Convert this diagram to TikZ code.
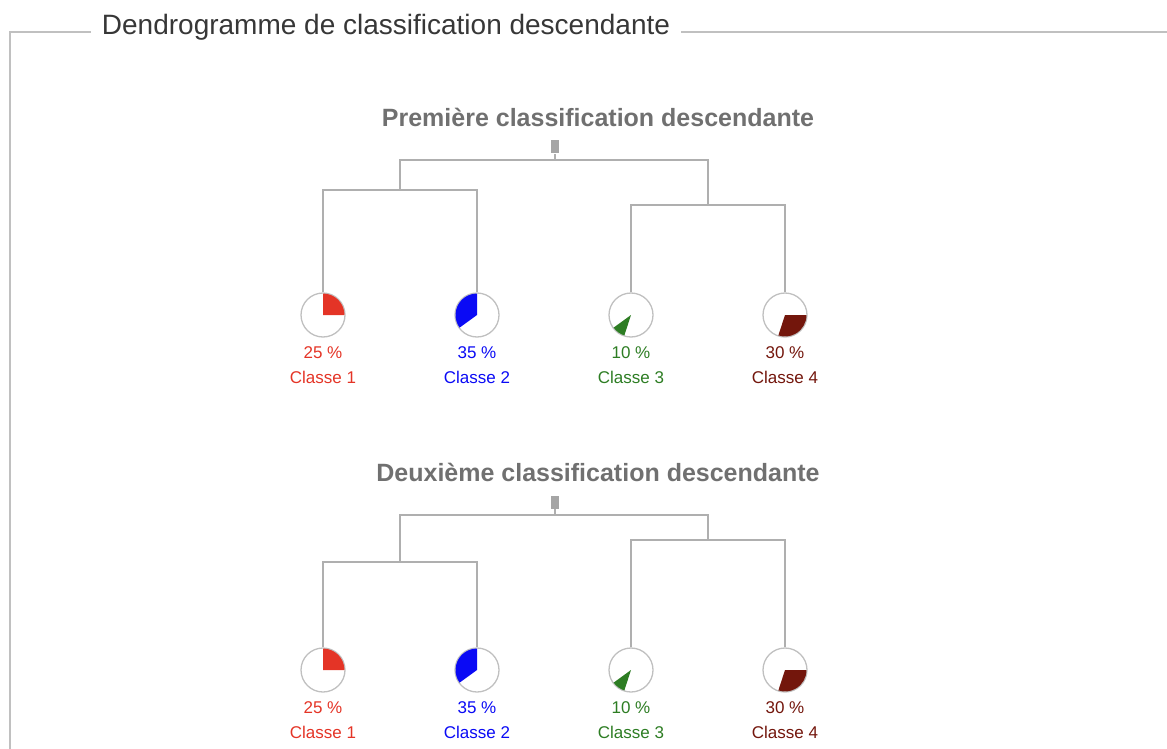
\documentclass[tikz,border=0pt]{standalone}
\usepackage{fontspec}
\setmainfont{Liberation Sans}
\usetikzlibrary{positioning}
\definecolor{framegray}{RGB}{192,192,192}
\definecolor{titlegray}{RGB}{55,55,55}
\definecolor{subgray}{RGB}{112,112,112}
\definecolor{treegray}{RGB}{175,175,175}
\definecolor{rootgray}{RGB}{165,165,165}
\definecolor{classA}{RGB}{228,52,38}
\definecolor{classB}{RGB}{10,10,245}
\definecolor{classC}{RGB}{45,125,35}
\definecolor{classD}{RGB}{115,22,12}
\tikzset{
	frameline/.style={draw=framegray, line width=1.2pt},
	branch/.style={draw=treegray, line width=1.3pt},
	pie/.style={
		circle,
		draw=framegray, line width=1.3pt,
		minimum size=44pt,
		inner sep=0pt},
	rootbox/.style={
		rectangle,
		fill=rootgray,
		minimum width=8pt,
		minimum height=13pt,
		inner sep=0pt},
	frametitle/.style={font=\fontsize{28}{30}\selectfont, text=titlegray, inner xsep=11pt},
	subtitle/.style={font=\fontsize{25}{27}\selectfont\bfseries, text=subgray},
	pct/.style={font=\fontsize{17}{19}\selectfont, inner sep=0pt},
}
\newcommand*\pieslice[4]{%
	\fill[#1] (#2.center) -- ++(#3:21.5pt) arc[start angle=#3, end angle=#4, radius=21.5pt] -- cycle;}

\begin{document}
\begin{tikzpicture}[x=1pt, y=1pt]
\useasboundingbox (0,0) rectangle (1167,-749);

% cadre
\node[frametitle] (frametitle) at (386,-27) {Dendrogramme de classification descendante};
\coordinate (frameleft) at (10,-749);
\coordinate (frameright) at (1167,-32);
\draw[frameline] (frameleft) |- (frametitle.west |- frameright);
\draw[frameline] (frametitle.east |- frameright) -- (frameright);

\foreach \t/\word/\yl/\yr in {1/Première/190/205, 2/Deuxième/207/185}{
	\begin{scope}[yshift={-355*(\t-1)}]
		\node[subtitle] (title\t) at (598,-117) {\word{} classification descendante};
		\node[rootbox] (root\t) at (555,-147) {};
		\coordinate (top\t) at (555,-160);
		\coordinate (joinl\t) at (400,-\yl);
		\coordinate (joinr\t) at (708,-\yr);

		\foreach \c/\col/\pc/\a/\b/\x in {1/classA/25/90/0/323, 2/classB/35/90/216/477,
			3/classC/10/216/252/631, 4/classD/30/0/-108/785}{
			\node[pie] (pie\t-\c) at (\x,-315) {};
			\pieslice{\col}{pie\t-\c}{\a}{\b}
			\node[pct, text=\col, below=9pt of pie\t-\c] (pct\t-\c) {\pc{} \%};
			\node[pct, text=\col, below=12pt of pct\t-\c] (name\t-\c) {Classe \c};
		}

		\draw[branch] (pie\t-1.north) |- (joinl\t) -| (pie\t-2.north);
		\draw[branch] (pie\t-3.north) |- (joinr\t) -| (pie\t-4.north);
		\draw[branch] (joinl\t) |- (top\t) -| (joinr\t);
		\draw[branch] (top\t) -- (root\t.south);
	\end{scope}
}
\end{tikzpicture}
\end{document}
